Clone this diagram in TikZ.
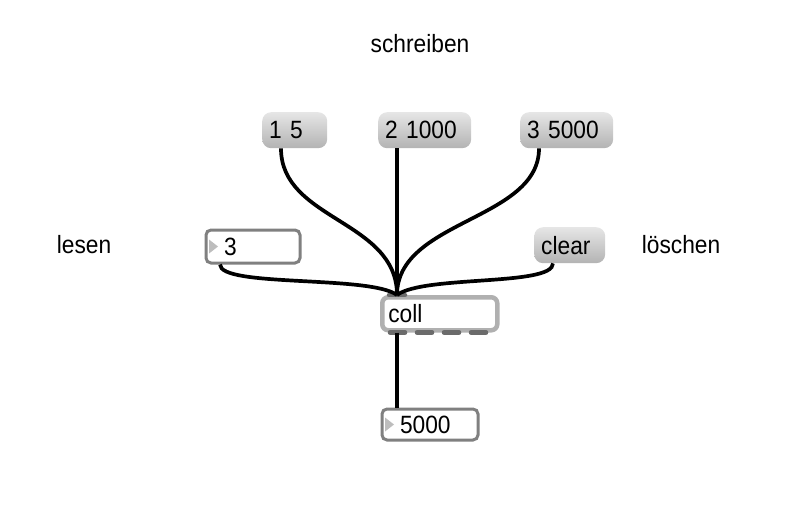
\documentclass[tikz,border=0pt]{standalone}
\usepackage{fontspec}
\setmainfont{Liberation Sans}[FakeStretch=0.91]
\usepackage{tikz}
\usetikzlibrary{positioning}

\definecolor{msgtop}{HTML}{E6E6E6}
\definecolor{msgbot}{HTML}{B3B3B3}
\definecolor{numframe}{HTML}{808080}
\definecolor{objframe}{HTML}{B0B0B0}
\definecolor{portgray}{HTML}{6B6B6B}
\definecolor{trigray}{HTML}{BDBDBD}

\tikzset{
	patchfont/.style={font=\fontsize{25}{25}\selectfont},
	msgbox/.style={patchfont, anchor=north west, rounded corners=9pt, top color=msgtop, bottom color=msgbot, inner xsep=7pt, inner ysep=0pt, minimum height=36pt, align=left},
	numbox/.style={patchfont, anchor=north west, draw=numframe, line width=3pt, rounded corners=5pt, fill=white, inner xsep=18pt, inner ysep=0pt, align=left,
		path picture={\fill[trigray, sharp corners]
			([xshift=3pt,yshift=7pt]path picture bounding box.west) --
			([xshift=12pt]path picture bounding box.west) --
			([xshift=3pt,yshift=-7pt]path picture bounding box.west) -- cycle;}},
	objbox/.style={patchfont, anchor=north west, draw=objframe, line width=4.5pt, rounded corners=6pt, fill=white, inner xsep=6pt, inner ysep=0pt, minimum height=33pt, align=left},
	port/.style={draw=portgray, line width=4.5pt, line cap=round},
	cable/.style={draw=black, line width=3.7pt}
}

\begin{document}
\begin{tikzpicture}[x=1pt, y=-1pt]
		\useasboundingbox (0,0) rectangle (786,514);

		\node[patchfont] (schreiben) at (420, 44) {schreiben};
		\node[patchfont] (lesen) at (84, 245) {lesen};
		\node[patchfont] (loeschen) at (681, 245) {löschen};

		\node[msgbox, text width=51pt] (m15) at (262, 112) {1 5};
		\node[msgbox, text width=79pt] (m21000) at (378, 112) {2 1000};
		\node[msgbox, text width=79pt] (m35000) at (520, 112) {3 5000};
		\node[numbox, text width=58pt, minimum height=33pt] (n3) at (204.5, 228.5) {3};
		\node[msgbox, text width=57pt] (clear) at (534, 227) {clear};
		\node[objbox, text width=103pt] (coll) at (380, 295) {coll};
		\node[numbox, text width=60pt, minimum height=31pt] (n5000) at (380.5, 407.5) {5000};

		% inlet and outlets of coll
		\draw [port] ([xshift=9pt]coll.north west) -- ++(16pt,0);
		\foreach \ox in {10,37,64,91}
			\draw [port] ([xshift=\ox pt]coll.south west) -- ++(15pt,0);

		\draw [cable] ([xshift=19pt]m15.south west) .. controls +(0,72) and +(0,-75) .. ([xshift=17pt]coll.north west);
		\draw [cable] ([xshift=19pt]m21000.south west) -- ([xshift=17pt]coll.north west);
		\draw [cable] ([xshift=19pt]m35000.south west) .. controls +(0,72) and +(0,-75) .. ([xshift=17pt]coll.north west);
		\draw [cable] ([xshift=15.5pt]n3.south west) .. controls +(0,23) and +(-27,-20) .. ([xshift=17pt]coll.north west);
		\draw [cable] ([xshift=19pt]clear.south west) .. controls +(0,23) and +(27,-20) .. ([xshift=17pt]coll.north west);
		\draw [cable] ([xshift=17pt]coll.south west) -- ([xshift=16.5pt]n5000.north west);
\end{tikzpicture}
\end{document}
